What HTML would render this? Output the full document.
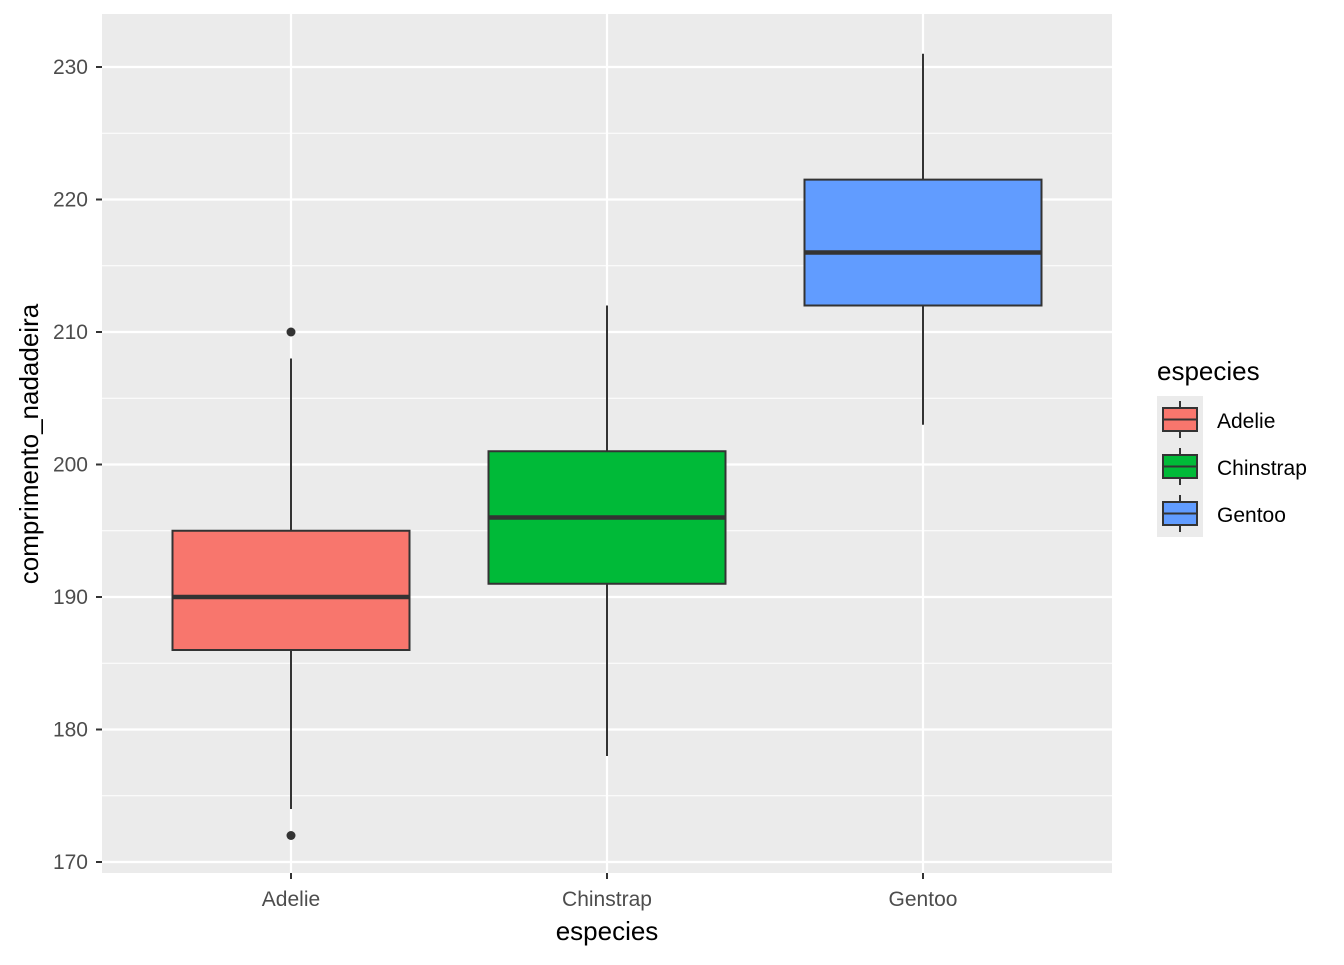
<!DOCTYPE html>
<html><head><meta charset="utf-8"><style>
body{margin:0;background:#fff}
text{font-family:"Liberation Sans",Arial,sans-serif}
</style></head><body>
<svg id="chart" width="1344" height="960" xmlns="http://www.w3.org/2000/svg">
<rect x="102" y="14" width="1010" height="859" fill="#ebebeb"/>
<g id="grid"></g><g id="boxes"></g><g id="axes"></g><g id="legend"></g>
<text x="607" y="940" text-anchor="middle" font-size="26" fill="#000">especies</text>
<text transform="translate(38,444) rotate(-90)" text-anchor="middle" font-size="26" fill="#000">comprimento_nadadeira</text>
</svg>
<script>
const categories=["Adelie","Chinstrap","Gentoo"];
const colors=["#F8766D","#00BA38","#619CFF"];
const whiskerLow=[174,178,203];
const q1=[186,191,212];
const medians=[190,196,216];
const q3=[195,201,221.5];
const whiskerHigh=[208,212,231];
const outliers=[[210,172],[],[]];
const yTicks=[170,180,190,200,210,220,230];
const NS="http://www.w3.org/2000/svg";
const y=v=>862-(v-170)*13.25;
const x=i=>291+i*316;
const bw=237;
function mk(parent,tag,attrs){const e=document.createElementNS(NS,tag);for(const k in attrs)e.setAttribute(k,attrs[k]);document.getElementById(parent).appendChild(e);return e;}
// grid
for(let i=0;i<yTicks.length;i++){
  const v=yTicks[i];
  let g=mk('grid','line',{x1:102,x2:1112,y1:y(v),y2:y(v),stroke:'#fff','stroke-width':2.2});
  
  
  if(i<yTicks.length-1){const m=(v+yTicks[i+1])/2;
    let g2=mk('grid','line',{x1:102,x2:1112,y1:y(m),y2:y(m),stroke:'#fff','stroke-width':1.1});
    
    }
  let t=mk('axes','text',{x:88,y:y(v)+7,'text-anchor':'end','font-size':21,fill:'#4d4d4d'});t.textContent=v;
  
  
  let tk=mk('axes','line',{x1:96,x2:102,y1:y(v),y2:y(v),stroke:'#333','stroke-width':2});
  
  
}
categories.forEach((c,i)=>{
  let g=mk('grid','line',{x1:x(i),x2:x(i),y1:14,y2:873,stroke:'#fff','stroke-width':2.2});
  
  
  let tk=mk('axes','line',{x1:x(i),x2:x(i),y1:873,y2:879,stroke:'#333','stroke-width':2});
  
  
  let t=mk('axes','text',{x:x(i),y:906,'text-anchor':'middle','font-size':21,fill:'#4d4d4d'});t.textContent=c;
  
  
  let w=mk('boxes','line',{x1:x(i),x2:x(i),y1:y(whiskerLow[i]),y2:y(whiskerHigh[i]),stroke:'#333','stroke-width':2});
  
  
  let b=mk('boxes','rect',{x:x(i)-bw/2,y:y(q3[i]),width:bw,height:y(q1[i])-y(q3[i]),fill:colors[i],stroke:'#333','stroke-width':2});
  
  
  let m=mk('boxes','line',{x1:x(i)-bw/2,x2:x(i)+bw/2,y1:y(medians[i]),y2:y(medians[i]),stroke:'#333','stroke-width':4.5});
  
  
  outliers[i].forEach(o=>{let p=mk('boxes','circle',{cx:x(i),cy:y(o),r:4.5,fill:'#333'});
    
    });
  // legend
  const ly=396+i*47;
  mk('legend','rect',{x:1157,y:ly,width:46,height:47,fill:'#ebebeb'});
  let kl=mk('legend','line',{x1:1180,x2:1180,y1:ly+5,y2:ly+42,stroke:'#333','stroke-width':2});
  
  
  let kb=mk('legend','rect',{x:1163,y:ly+12,width:34,height:23,fill:colors[i],stroke:'#333','stroke-width':2});
  
  
  mk('legend','line',{x1:1163,x2:1197,y1:ly+23.5,y2:ly+23.5,stroke:'#333','stroke-width':2});
  let lt=mk('legend','text',{x:1217,y:ly+32,'font-size':21,fill:'#000'});lt.textContent=c;
  
  
});
let lt=mk('legend','text',{x:1157,y:380,'font-size':26,fill:'#000'});lt.textContent='especies';


</script>
</body></html>
